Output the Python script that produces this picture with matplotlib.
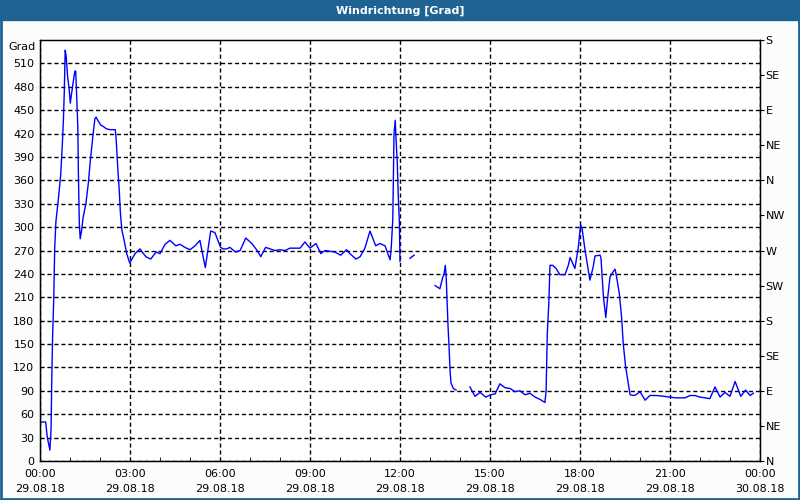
#Wind direction chart - Windrichtung [Grad]
import matplotlib
matplotlib.use("Agg")
import matplotlib.pyplot as plt
import numpy as np

#time in hours after 00:00 29.08.18, nan = gap in the recording
hours = [0.0, 0.19, 0.24, 0.33, 0.37, 0.39, 0.42, 0.46, 0.49, 0.53, 0.61, 0.69, 0.74, 0.78,
         0.81, 0.84, 0.87, 0.89, 0.92, 0.97, 1.01, 1.04, 1.09, 1.12, 1.16, 1.19, 1.21, 1.26,
         1.28, 1.31, 1.34, 1.38, 1.44, 1.53, 1.61, 1.68, 1.76, 1.83, 1.87, 1.94, 2.02, 2.11,
         2.22, 2.33, 2.51, 2.54, 2.59, 2.64, 2.68, 2.73, 2.8, 2.89, 2.99, 3.17, 3.33, 3.53,
         3.69, 3.87, 4.0, 4.17, 4.33, 4.53, 4.67, 4.83, 5.0, 5.17, 5.33, 5.51, 5.69, 5.83,
         6.02, 6.11, 6.22, 6.33, 6.52, 6.67, 6.86, 7.06, 7.22, 7.36, 7.52, 7.67, 7.83, 8.0,
         8.17, 8.33, 8.67, 8.83, 9.0, 9.2, 9.36, 9.5, 9.83, 10.02, 10.22, 10.33, 10.53, 10.67,
         10.83, 11.0, 11.19, 11.33, 11.5, 11.67, 11.71, 11.76, 11.8, 11.84, 11.87, 11.91, 11.94,
         11.98, 12.0, np.nan,
         12.33, 12.47, np.nan,
         13.17, 13.33, 13.42, 13.47, 13.51, 13.54, 13.57, 13.6, 13.64, 13.67, 13.7, 13.78,
         13.87, np.nan,
         14.33, 14.5, 14.67, 14.86, 15.02, 15.17, 15.33, 15.5, 15.67, 15.83, 16.0, 16.17,
         16.33, 16.5, 16.67, 16.83, 16.87, 16.91, 16.96, 17.0, 17.09, 17.2, 17.33, 17.5,
         17.61, 17.67, 17.83, 17.94, 18.02, 18.07, 18.17, 18.33, 18.44, 18.5, 18.67, 18.7,
         18.78, 18.86, 18.91, 19.0, 19.11, 19.17, 19.22, 19.31, 19.39, 19.44, 19.52, 19.59,
         19.67, 19.78, 19.87, 20.0, 20.17, 20.33, 20.56, 20.78, 21.0, 21.17, 21.33, 21.5,
         21.67, 21.83, 22.0, 22.17, 22.33, 22.5, 22.67, 22.83, 23.0, 23.17, 23.36, 23.52,
         23.67, 23.78]
direction = [50, 50, 31, 14, 42, 100, 159, 211, 273, 307, 335, 367, 403, 437,
             474, 527, 520, 510, 493, 478, 459, 468, 481, 488, 500, 500, 481, 429,
             369, 305, 285, 294, 313, 330, 356, 386, 416, 439, 441, 436, 431, 429,
             426, 425, 425, 412, 377, 348, 318, 296, 284, 266, 254, 266, 272, 262,
             259, 268, 266, 278, 283, 276, 278, 274, 271, 276, 283, 248, 295, 293,
             274, 272, 272, 274, 268, 270, 286, 279, 271, 262, 274, 272, 270, 271,
             270, 273, 273, 281, 273, 279, 266, 270, 268, 264, 271, 266, 259, 262,
             273, 295, 276, 279, 276, 258, 275, 310, 420, 437, 412, 382, 342,
             305, 256, np.nan,
             260, 264, np.nan,
             225, 221, 235, 240, 251, 236, 206, 174, 142, 115, 100, 93,
             91, np.nan,
             95, 83, 88, 82, 85, 86, 99, 94, 93, 89, 90, 85,
             87, 82, 79, 75, 90, 164, 202, 251, 251, 247, 239, 239,
             251, 261, 247, 273, 303, 298, 270, 232, 249, 263, 264, 260,
             211, 184, 205, 236, 243, 246, 236, 215, 183, 151, 121, 104,
             85, 84, 85, 89, 78, 84, 84, 83, 82, 81, 81, 81,
             84, 84, 82, 81, 80, 95, 82, 88, 83, 102, 83, 91,
             84, 87]

#axis labels
y_ticks = list(range(0, 511, 30))
compass_ticks = list(range(0, 541, 45))
compass_labels = ['N', 'NE', 'E', 'SE', 'S', 'SW', 'W', 'NW', 'N', 'NE', 'E', 'SE', 'S']
x_ticks = list(range(0, 25, 3))
x_labels = ['00:00\n29.08.18', '03:00\n29.08.18', '06:00\n29.08.18', '09:00\n29.08.18',
            '12:00\n29.08.18', '15:00\n29.08.18', '18:00\n29.08.18', '21:00\n29.08.18',
            '00:00\n30.08.18']

frame_blue = '#1f6395'
plt.rcParams['font.family'] = ['DejaVu Sans']
plt.rcParams['font.size'] = 8

fig = plt.figure(figsize=(8, 5), dpi=100, facecolor='#fbfdfb')

#title bar and outer frame
fig.patches.append(plt.Rectangle((0, 0.96), 1, 0.04, transform=fig.transFigure,
                                 color=frame_blue, zorder=0))
fig.patches.append(plt.Rectangle((0.0012, 0.002), 0.9976, 0.96, transform=fig.transFigure,
                                 fill=False, edgecolor=frame_blue, linewidth=2, zorder=0))
fig.text(0.5, 0.979, 'Windrichtung [Grad]', color='white', fontweight='bold',
         ha='center', va='center', fontsize=8)

ax = fig.add_axes([0.05, 0.078, 0.9, 0.842])
ax.set_facecolor('white')
ax.plot(hours, direction, color='#0000ff', linewidth=1)

ax.set_xlim(0, 24)
ax.set_ylim(0, 540)
ax.set_xticks(x_ticks)
ax.set_xticklabels(x_labels, linespacing=1.6)
ax.set_xticks(range(0, 25), minor=True)
ax.set_yticks(y_ticks)
ax.tick_params(axis='x', which='major', length=0, pad=6)
ax.tick_params(axis='x', which='minor', direction='in', length=3)
ax.tick_params(axis='y', length=0, pad=4)
ax.grid(True, color='black', linestyle=(0, (3, 2)), linewidth=1)
for sp in ax.spines.values():
    sp.set_color('black')
    sp.set_linewidth(1)
ax.text(-0.006, 537, 'Grad', transform=ax.get_yaxis_transform(), ha='right', va='top')

#compass labels on the right
ax2 = ax.twinx()
ax2.set_ylim(0, 540)
ax2.set_yticks(compass_ticks)
ax2.set_yticklabels(compass_labels)
ax2.tick_params(axis='y', direction='out', length=3, pad=1)

plt.savefig('out.png', dpi=100, facecolor=fig.get_facecolor())
plt.close()
